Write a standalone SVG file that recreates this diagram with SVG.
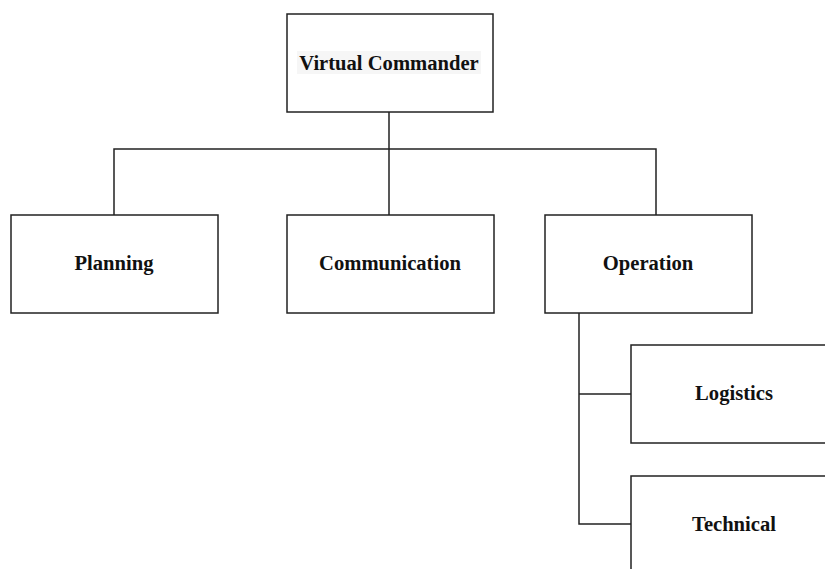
<svg xmlns="http://www.w3.org/2000/svg" width="825" height="569" viewBox="0 0 825 569">
<style>
.box{fill:#fff;stroke:#222;stroke-width:1.5}
.lbl{font-family:"Liberation Serif","Times New Roman",serif;font-weight:bold;font-size:20.6px;fill:#111;text-anchor:middle}
.conn{fill:none;stroke:#222;stroke-width:1.5}
</style>
<rect width="825" height="569" fill="#fff"/>
<g id="connectors">
<path class="conn" d="M389,112 V215 M114,215 V149 H656 V215 M579,313 V524 H631 M579,394 H631"/>
</g>
<g id="virtual-commander">
<rect class="box" x="287" y="14" width="206" height="98"/>
<rect x="297" y="51" width="184" height="23" fill="#f6f6f6"/>
<text class="lbl" x="389" y="70">Virtual Commander</text>
</g>
<g id="planning">
<rect class="box" x="11" y="215" width="207" height="98"/>
<text class="lbl" x="114" y="270">Planning</text>
</g>
<g id="communication">
<rect class="box" x="287" y="215" width="207" height="98"/>
<text class="lbl" x="390" y="270">Communication</text>
</g>
<g id="operation">
<rect class="box" x="545" y="215" width="207" height="98"/>
<text class="lbl" x="648" y="270">Operation</text>
</g>
<g id="logistics">
<rect class="box" x="631" y="345" width="207" height="98"/>
<text class="lbl" x="734" y="400">Logistics</text>
</g>
<g id="technical">
<rect class="box" x="631" y="476" width="207" height="98"/>
<text class="lbl" x="734" y="531">Technical</text>
</g>
</svg>
